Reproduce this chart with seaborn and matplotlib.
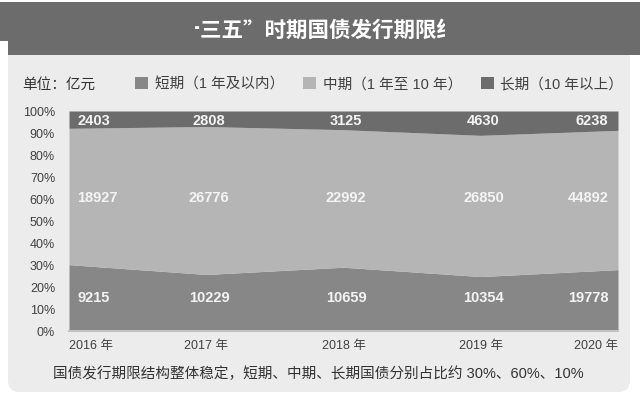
import numpy as np
import pandas as pd
import seaborn as sns
import matplotlib.pyplot as plt
from matplotlib.patches import FancyBboxPatch, Rectangle
from matplotlib.transforms import Bbox, IdentityTransform

# data (亿元)
years = ["2016 年", "2017 年", "2018 年", "2019 年", "2020 年"]
short_term = [9215, 10229, 10659, 10354, 19778]
mid_term = [18927, 26776, 22992, 26850, 44892]
long_term = [2403, 2808, 3125, 4630, 6238]
series_names = ["短期（1 年及以内）", "中期（1 年至 10 年）", "长期（10 年以上）"]
pct_ticks = [0, 10, 20, 30, 40, 50, 60, 70, 80, 90, 100]

title = "“十三五”时期国债发行期限结构"
unit = "单位：亿元"
note = "国债发行期限结构整体稳定，短期、中期、长期国债分别占比约 30%、60%、10%"

df = pd.DataFrame({"year": years, "短期": short_term, "中期": mid_term, "长期": long_term})
cols = ["短期", "中期", "长期"]
share = df[cols].div(df[cols].sum(axis=1), axis=0) * 100

sns.set_theme(style="white")
plt.rcParams["font.family"] = ["Liberation Sans", "Noto Sans CJK SC", "DejaVu Sans"]
colors = ["#878787", "#b5b5b5", "#6c6c6c"]

W, H = 640, 406
fig = plt.figure(figsize=(6.4, 4.06), dpi=100)
fig.patch.set_facecolor("white")
px = IdentityTransform()

# panel + title bar
panel = FancyBboxPatch((8, H - 393), 622, 348, boxstyle="round,pad=0,rounding_size=12",
                       facecolor="#ececec", edgecolor="none", transform=px, zorder=0)
fig.add_artist(panel)
fig.add_artist(Rectangle((8, H - 56), 632, 53, facecolor="#6c6c6c", edgecolor="none",
                         transform=px, zorder=1))
fig.add_artist(Rectangle((0, H - 42), 9, 39, facecolor="#6c6c6c", edgecolor="none",
                         transform=px, zorder=1))
t = fig.text(157 / W, 1 - 30 / H, title, ha="left", va="center", color="white",
             fontsize=15.5, fontweight="bold", family=["Noto Sans CJK SC"], zorder=2)
t.set_clip_box(Bbox.from_extents(195, 0, 445, H))
t.set_clip_on(True)

fig.text(22 / W, 1 - 85 / H, unit, ha="left", va="center", fontsize=10.5, color="#333333")

ax = fig.add_axes([69 / W, 1 - 332 / H, (618 - 69) / W, (332 - 112) / H])
ax.set_facecolor("none")
x = np.arange(len(years))
polys = ax.stackplot(x, share["短期"], share["中期"], share["长期"],
                     colors=colors, labels=series_names, linewidth=0)
ax.set_xlim(0, len(years) - 1)
ax.set_ylim(0, 100)
ax.set_yticks(pct_ticks, [f"{v}%" for v in pct_ticks])
ax.set_xticks(x, years)
ax.tick_params(axis="both", length=0, labelsize=9, labelcolor="#404040")
ax.tick_params(axis="y", pad=10)
ax.tick_params(axis="x", pad=6)
labels = ax.get_xticklabels()
labels[0].set_ha("left")
labels[-1].set_ha("right")
sns.despine(ax=ax, left=True, top=True, right=True)
ax.spines["bottom"].set_color("#c2c2c2")
ax.spines["bottom"].set_linewidth(1.5)

label_y = [15.5, 61, 96]
for i in x:
    if i == 0:
        dx, ha = 6, "left"
    elif i == len(years) - 1:
        dx, ha = -7, "right"
    else:
        dx, ha = 2, "center"
    for j, c in enumerate(cols):
        ax.annotate(f"{df[c][i]}", xy=(i, label_y[j]), xytext=(dx, 0),
                    textcoords="offset points", ha=ha, va="center",
                    color="#f4f4f4", fontsize=10.5, fontweight="bold")

fig.legend(polys, series_names, loc="center left", bbox_to_anchor=(135 / W, 1 - 85 / H),
           ncol=3, frameon=False, borderpad=0, borderaxespad=0, fontsize=10.5,
           handlelength=0.9, handleheight=0.9, handletextpad=0.45, columnspacing=1.3,
           labelcolor="#404040")

fig.text(318 / W, 1 - 374 / H, note, ha="center", va="center", fontsize=10.5, color="#333333")

fig.savefig("out.png", dpi=100)
